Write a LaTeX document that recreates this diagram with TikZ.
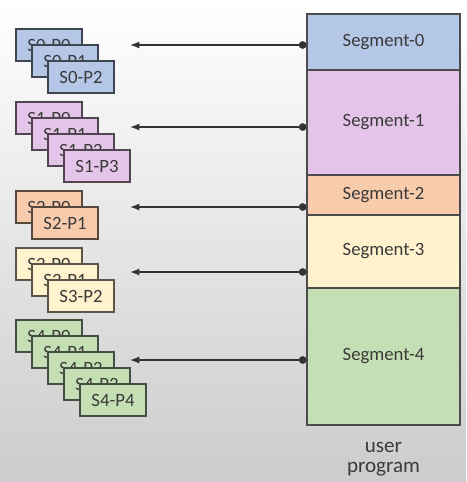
\documentclass[tikz,border=0pt]{standalone}
\usepackage{fontspec}
\setmainfont{Carlito}
\usepackage{tikz}
\usetikzlibrary{arrows.meta,positioning}
\usepackage{xcolor}

\definecolor{segblue}{HTML}{B4C7E7}
\definecolor{segpink}{HTML}{E4C4E8}
\definecolor{segorange}{HTML}{F8CBAD}
\definecolor{segyellow}{HTML}{FFF2CC}
\definecolor{seggreen}{HTML}{C5DFB4}
\definecolor{inktext}{HTML}{3A3A3A}

\begin{document}
\begin{tikzpicture}[x=0.03cm, y=-0.03cm,
    segbox/.style={draw=black!70, line width=0.9pt, minimum width=4.59cm, inner sep=0pt,
        text=inktext, font=\fontsize{16}{18}\selectfont},
    pagebox/.style={draw=#1!35!black, fill=#1, line width=0.9pt, minimum width=1.98cm,
        minimum height=0.96cm, inner sep=0pt, text=inktext, font=\fontsize{16}{18}\selectfont},
    ptr/.style={{Circle[length=6.5pt]}-{Latex[length=8pt,width=6pt]}, line width=1.2pt, draw=black!80}]

    % Background
    \fill[top color=white, middle color=white, bottom color=black!20] (0,0) rectangle (466,482);

    % User program segments
    \node[segbox, minimum height=1.68cm, fill=segblue] (seg0) at (383.5,42) {Segment-0};
    \node[segbox, minimum height=3.15cm, fill=segpink] (seg1) at (383.5,122.5) {Segment-1};
    \node[segbox, minimum height=1.2cm, fill=segorange] (seg2) at (383.5,195) {Segment-2};
    \node[segbox, minimum height=2.19cm, fill=segyellow] (seg3) at (383.5,251.5) {Segment-3};
    \node[segbox, minimum height=4.11cm, fill=seggreen] (seg4) at (383.5,356.5) {Segment-4};
    \node[text=inktext, align=center, font=\fontsize{18}{17}\selectfont, below=0.38cm of seg4] (prog) {user\\program};

    % Pages of segment 0
    \node[pagebox=segblue] (s0p0) at (49,45) {S0-P0};
    \node[pagebox=segblue] (s0p1) at (65,61) {S0-P1};
    \node[pagebox=segblue] (s0p2) at (81,77) {S0-P2};

    % Pages of segment 1
    \node[pagebox=segpink] (s1p0) at (49,118) {S1-P0};
    \node[pagebox=segpink] (s1p1) at (65,134) {S1-P1};
    \node[pagebox=segpink] (s1p2) at (81,150) {S1-P2};
    \node[pagebox=segpink] (s1p3) at (97,166) {S1-P3};

    % Pages of segment 2
    \node[pagebox=segorange] (s2p0) at (49,207) {S2-P0};
    \node[pagebox=segorange] (s2p1) at (65,223) {S2-P1};

    % Pages of segment 3
    \node[pagebox=segyellow] (s3p0) at (49,264) {S3-P0};
    \node[pagebox=segyellow] (s3p1) at (65,280) {S3-P1};
    \node[pagebox=segyellow] (s3p2) at (81,296) {S3-P2};

    % Pages of segment 4
    \node[pagebox=seggreen] (s4p0) at (49,336) {S4-P0};
    \node[pagebox=seggreen] (s4p1) at (65,352) {S4-P1};
    \node[pagebox=seggreen] (s4p2) at (81,368) {S4-P2};
    \node[pagebox=seggreen] (s4p3) at (97,384) {S4-P3};
    \node[pagebox=seggreen] (s4p4) at (113,400) {S4-P4};

    % Arrow ends
    \coordinate (t0) at (130,45);
    \coordinate (t1) at (130,127);
    \coordinate (t2) at (130,207);
    \coordinate (t3) at (130,272);
    \coordinate (t4) at (130,360);

    % Segments point to their pages
    \draw[ptr] (seg0.west |- t0) -- (t0);
    \draw[ptr] (seg1.west |- t1) -- (t1);
    \draw[ptr] (seg2.west |- t2) -- (t2);
    \draw[ptr] (seg3.west |- t3) -- (t3);
    \draw[ptr] (seg4.west |- t4) -- (t4);
\end{tikzpicture}
\end{document}
